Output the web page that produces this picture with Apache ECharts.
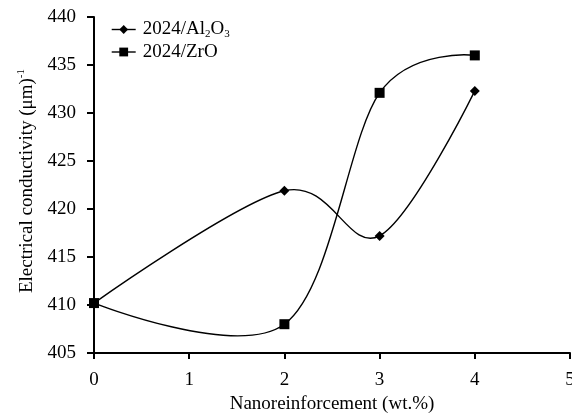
<!DOCTYPE html>
<html><head><meta charset="utf-8">
<script src="https://cdn.jsdelivr.net/npm/echarts@6/dist/echarts.min.js"></script>
<style>html,body{margin:0;padding:0;background:#fff}#c{width:572px;height:417px}</style>
</head><body><div id="c"></div>
<script>
const xValues = [0, 2, 3, 4];
const al2o3 = [410.2, 421.9, 417.2, 432.3];
const zro = [410.2, 408.0, 432.1, 436.0];
const seriesNames = ['2024/Al2O3', '2024/ZrO'];
const xTicks = [0, 1, 2, 3, 4, 5];
const yTicks = [405, 410, 415, 420, 425, 430, 435, 440];

const font = 'Liberation Serif';
const FS = 19;
const chart = echarts.init(document.getElementById('c'));
const pairs = ys => xValues.map((x, i) => [x, ys[i]]);

// Excel-like smoothed line: Catmull-Rom Bezier segments computed in pixel space via the axes
function smoothRenderer(ys) {
  return function (params, api) {
    const i = params.dataIndex, n = xValues.length;
    if (i >= n - 1) return null;
    const P = k => api.coord([xValues[k], ys[k]]);
    const p0 = P(i), p1 = P(i + 1);
    const pm = i > 0 ? P(i - 1) : null;
    const pn = i + 2 < n ? P(i + 2) : null;
    const c1 = pm ? [p0[0] + (p1[0] - pm[0]) / 6, p0[1] + (p1[1] - pm[1]) / 6] : p0;
    const c2 = pn ? [p1[0] - (pn[0] - p0[0]) / 6, p1[1] - (pn[1] - p0[1]) / 6] : p1;
    return {
      type: 'bezierCurve',
      shape: {x1: p0[0], y1: p0[1], x2: p1[0], y2: p1[1], cpx1: c1[0], cpy1: c1[1], cpx2: c2[0], cpy2: c2[1]},
      style: {stroke: '#000', lineWidth: 1.4, fill: 'none'}
    };
  };
}

chart.setOption({
  backgroundColor: '#fff',
  animation: false,
  grid: {left: 94, right: 2, top: 17, bottom: 64, outerBoundsMode: 'none', containLabel: false},
  legend: {
    left: 106, top: 15, orient: 'vertical', itemGap: 3,
    itemWidth: 24, itemHeight: 11,
    lineStyle: {color: '#000', width: 1.4, opacity: 1},
    textStyle: {fontFamily: font, fontSize: FS, color: '#000', padding: [0, 0, 0, 2],
      rich: {sub: {fontFamily: font, fontSize: 11, color: '#000', verticalAlign: 'bottom', padding: [9, 0, 0, 0]}}},
    formatter: n => n === seriesNames[0] ? '2024/Al{sub|2}O{sub|3}' : n,
    data: seriesNames
  },
  xAxis: {
    type: 'value', min: xTicks[0], max: xTicks[xTicks.length - 1], interval: 1,
    name: 'Nanoreinforcement (wt.%)', nameLocation: 'middle', nameGap: 40,
    nameTextStyle: {fontFamily: font, fontSize: FS, color: '#000'},
    axisLine: {lineStyle: {color: '#000', width: 2}},
    axisTick: {show: true, length: 6, lineStyle: {color: '#000', width: 2}},
    axisLabel: {fontFamily: font, fontSize: FS, color: '#000', margin: 18},
    splitLine: {show: false}
  },
  yAxis: {
    type: 'value', min: yTicks[0], max: yTicks[yTicks.length - 1], interval: 5,
    name: 'Electrical conductivity (μm){sup|-1}', nameLocation: 'middle', nameGap: 50,
    nameTextStyle: {fontFamily: font, fontSize: FS, color: '#000', padding: [0, 0, 0, 8],
      rich: {sup: {fontFamily: font, fontSize: 11, color: '#000', padding: [0, 0, 12, 0]}}},
    axisLine: {show: true, lineStyle: {color: '#000', width: 2}},
    axisTick: {show: true, length: 7, lineStyle: {color: '#000', width: 2}},
    axisLabel: {fontFamily: font, fontSize: FS, color: '#000', margin: 18},
    splitLine: {show: false}
  },
  series: [
    {name: 'curve-al', type: 'custom', coordinateSystem: 'cartesian2d', data: pairs(al2o3),
     encode: {x: 0, y: 1}, renderItem: smoothRenderer(al2o3), silent: true, z: 2},
    {name: 'curve-zro', type: 'custom', coordinateSystem: 'cartesian2d', data: pairs(zro),
     encode: {x: 0, y: 1}, renderItem: smoothRenderer(zro), silent: true, z: 2},
    {name: seriesNames[0], type: 'line', data: pairs(al2o3), z: 3,
     symbol: 'diamond', symbolSize: 10, showAllSymbol: true,
     lineStyle: {color: '#000', width: 1.4, opacity: 0}, itemStyle: {color: '#000'}},
    {name: seriesNames[1], type: 'line', data: pairs(zro), z: 3,
     symbol: 'rect', symbolSize: 10,
     lineStyle: {color: '#000', width: 1.4, opacity: 0}, itemStyle: {color: '#000'}}
  ]
});
</script></body></html>
